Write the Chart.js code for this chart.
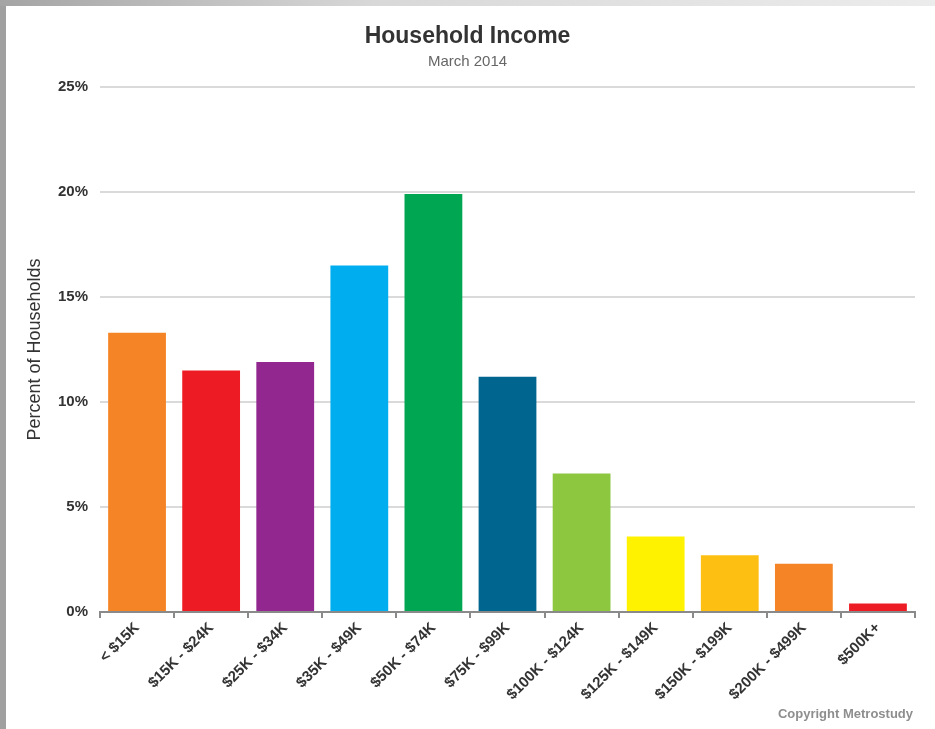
<!DOCTYPE html>
<html>
<head>
<meta charset="utf-8">
<script src="https://cdn.jsdelivr.net/npm/chart.js@4"></script>
<style>
  html, body { margin: 0; padding: 0; background: #fff; }
  body { width: 935px; height: 729px; position: relative; overflow: hidden; font-family: 'Liberation Sans', Arial, sans-serif; }
  .edge-left { position: absolute; left: 0; top: 0; width: 6px; height: 729px; background: #a0a0a0; }
  .edge-top { position: absolute; left: 0; top: 0; width: 935px; height: 6px; background: linear-gradient(to right, #a4a4a4, #d8d8d8 40%, #ececec); }
  .wrap { position: absolute; left: 6px; top: 6px; width: 929px; height: 723px; }
  .copy { position: absolute; right: 22px; top: 706px; font-size: 13px; font-weight: bold; color: #8e8e8e; }
</style>
</head>
<body>
<div class="edge-left"></div>
<div class="edge-top"></div>
<div class="wrap"><canvas id="incomeChart" width="929" height="723"></canvas></div>
<div class="copy">Copyright Metrostudy</div>
<script>
const categories = ['< $15K', '$15K - $24K', '$25K - $34K', '$35K - $49K', '$50K - $74K', '$75K - $99K',
    '$100K - $124K', '$125K - $149K', '$150K - $199K', '$200K - $499K', '$500K+'];
const percentHouseholds = [13.3, 11.5, 11.9, 16.5, 19.9, 11.2, 6.6, 3.6, 2.7, 2.3, 0.4];
const barColors = ['#f58426', '#ed1c24', '#92278f', '#00aeef', '#00a651', '#00668f',
    '#8dc63f', '#fff200', '#fdbf12', '#f58426', '#ed1c24'];
const yTicks = [0, 5, 10, 15, 20, 25];

const fontFamily = "'Liberation Sans', Arial, sans-serif";

const ctx = document.getElementById('incomeChart').getContext('2d');
new Chart(ctx, {
    type: 'bar',
    data: {
        labels: categories,
        datasets: [{
            label: 'Percent of Households',
            data: percentHouseholds,
            backgroundColor: barColors,
            borderWidth: 0,
            barPercentage: 0.78,
            categoryPercentage: 1
        }]
    },
    options: {
        responsive: false,
        animation: false,
        // left/right padding chosen so the titles center on the whole picture
        layout: { padding: { left: 14, right: 20, top: 0, bottom: 30 } },
        plugins: {
            legend: { display: false },
            tooltip: { enabled: false },
            title: {
                display: true,
                text: 'Household Income',
                color: '#333',
                font: { family: fontFamily, size: 23, weight: 'bold' },
                padding: { top: 17, bottom: 0 }
            },
            subtitle: {
                display: true,
                text: 'March 2014',
                color: '#666',
                font: { family: fontFamily, size: 15 },
                padding: { top: 2, bottom: 16.4 }
            }
        },
        scales: {
            x: {
                afterFit: axis => { axis.height = 87; },
                grid: {
                    offset: true,
                    drawOnChartArea: false,
                    drawTicks: true,
                    tickLength: 6,
                    color: '#8a8a8a',
                    lineWidth: 2
                },
                border: { display: true, color: '#8a8a8a', width: 2 },
                ticks: {
                    maxRotation: 45,
                    minRotation: 45,
                    autoSkip: false,
                    padding: 1,
                    color: '#333',
                    font: { family: fontFamily, size: 15, weight: 'bold' }
                }
            },
            y: {
                min: 0,
                max: 25,
                afterFit: axis => { axis.width = 80; },
                afterBuildTicks: axis => { axis.ticks = yTicks.map(v => ({ value: v })); },
                grid: { color: '#dadada', lineWidth: 2, drawTicks: false },
                border: { display: false },
                ticks: {
                    padding: 12,
                    color: '#333',
                    font: { family: fontFamily, size: 15, weight: 'bold' },
                    callback: v => v + '%'
                },
                title: {
                    display: true,
                    text: 'Percent of Households',
                    color: '#333',
                    font: { family: fontFamily, size: 18 },
                    padding: { top: 4, bottom: 0 }
                }
            }
        }
    }
});
</script>
</body>
</html>
